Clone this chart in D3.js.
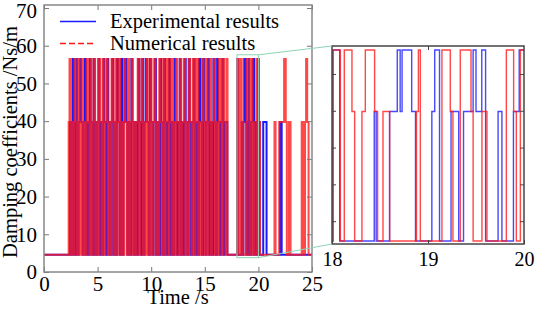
<!DOCTYPE html>
<html>
<head>
<meta charset="utf-8">
<script src="https://cdn.jsdelivr.net/npm/d3@7"></script>
<style>
  body { margin: 0; background: #fff; }
  svg { display: block; }
</style>
</head>
<body>
<svg width="536" height="309"></svg>
<script>
// damping levels (Ns/m)
const L = 4.6, M = 39.8, H = 56.5;

// experimental result: [time (s), damping]
const expSteps = [
  [0, L], [2.42, M], [2.55, L], [2.68, H], [2.79, M], [2.86, L], [3.02, H], [3.1, L], [3.24, M],
  [3.37, H], [3.45, M], [3.58, L], [3.71, M], [3.8, H], [3.92, L], [4.06, M], [4.18, L], [4.27, H],
  [4.35, M], [4.49, L], [4.63, H], [4.72, M], [4.8, L], [4.95, M], [5.07, H], [5.16, L], [5.3, M],
  [5.41, L], [5.55, H], [5.63, M], [5.78, L], [5.9, H], [6.0, M], [6.11, L], [6.24, M], [6.36, H],
  [6.45, L], [6.6, M], [6.72, L], [6.81, H], [6.93, M], [7.05, L], [7.2, H], [7.28, L], [7.41, M],
  [7.55, H], [7.66, M], [7.77, L], [7.92, M], [8.03, L], [8.15, H], [8.24, M], [8.37, L], [8.52, M],
  [8.66, L], [8.8, H], [8.9, M], [9.02, L], [9.17, H], [9.26, L], [9.39, M], [9.5, H], [9.6, M],
  [9.73, L], [9.88, H], [9.97, M], [10.1, L], [10.22, M], [10.35, H], [10.44, L], [10.58, M],
  [10.7, L], [10.84, H], [10.93, M], [11.06, L], [11.2, H], [11.28, M], [11.4, L], [11.55, M],
  [11.67, H], [11.76, L], [11.9, M], [12.03, L], [12.16, H], [12.27, M], [12.38, L], [12.54, M],
  [12.66, H], [12.74, L], [12.88, M], [13.0, L], [13.13, H], [13.22, M], [13.35, L], [13.5, H],
  [13.6, M], [13.72, L], [13.85, M], [13.97, H], [14.06, L], [14.2, M], [14.33, L], [14.46, H],
  [14.57, M], [14.7, L], [14.84, H], [14.92, M], [15.05, L], [15.18, M], [15.3, H], [15.4, L],
  [15.53, M], [15.66, L], [15.8, H], [15.9, M], [16.02, L], [16.15, H], [16.24, M], [16.38, L],
  [16.5, M], [16.63, H], [16.72, L], [16.86, M], [17.1, L],
  [18.01, H], [18.08, L], [18.44, M], [18.46, L], [18.6, M], [18.68, H], [18.71, M], [18.73, H],
  [18.83, M], [18.87, L], [19.04, M], [19.07, H], [19.12, L], [19.24, M], [19.32, L], [19.37, M],
  [19.47, H], [19.5, M], [19.56, H], [19.6, L], [19.73, M], [19.77, L], [19.89, M], [19.95, H],
  [20.02, M], [20.12, L], [20.45, M], [20.76, L], [22.0, M], [22.17, L], [25, L]
];

// numerical result: [time (s), damping]
const numSteps = [
  [0, L], [2.3, M], [2.38, H], [2.5, L], [2.61, M], [2.73, L], [2.85, H], [2.95, M], [3.07, L],
  [3.18, H], [3.3, L], [3.41, M], [3.52, H], [3.63, L], [3.76, M], [3.86, L], [3.98, H], [4.1, M],
  [4.22, L], [4.33, H], [4.44, L], [4.56, M], [4.68, H], [4.77, L], [4.89, M], [5.0, L], [5.12, H],
  [5.24, M], [5.35, L], [5.47, H], [5.58, L], [5.7, M], [5.82, H], [5.94, L], [6.05, M], [6.18, L],
  [6.3, H], [6.41, M], [6.52, L], [6.65, H], [6.76, L], [6.88, M], [6.99, H], [7.1, L], [7.23, M],
  [7.35, L], [7.46, H], [7.58, M], [7.7, L], [7.83, H], [7.95, L], [8.07, M], [8.19, H], [8.28, L],
  [8.4, M], [8.5, L], [8.62, M], [8.74, H], [8.85, L], [8.97, M], [9.09, H], [9.21, L], [9.33, M],
  [9.44, L], [9.56, H], [9.68, M], [9.79, L], [9.92, H], [10.03, L], [10.15, M], [10.28, H],
  [10.39, L], [10.51, M], [10.63, L], [10.75, H], [10.88, M], [10.99, L], [11.12, H], [11.24, L],
  [11.35, M], [11.47, H], [11.6, L], [11.72, M], [11.83, H], [11.95, L], [12.08, M], [12.2, L],
  [12.31, H], [12.43, M], [12.55, L], [12.68, H], [12.8, L], [12.92, M], [13.05, H], [13.17, L],
  [13.28, M], [13.4, L], [13.53, H], [13.65, M], [13.77, L], [13.9, H], [14.02, L], [14.14, M],
  [14.26, H], [14.38, L], [14.5, M], [14.62, L], [14.75, H], [14.87, M], [14.98, L], [15.1, H],
  [15.23, L], [15.35, M], [15.46, H], [15.58, L], [15.7, M], [15.83, H], [15.95, L], [16.07, M],
  [16.2, L], [16.32, H], [16.44, M], [16.55, L], [16.68, H], [16.8, M], [16.92, L], [17.02, H],
  [17.12, L],
  [18.01, H], [18.087, L], [18.128, H], [18.208, M], [18.236, L], [18.312, M], [18.347, H],
  [18.444, M], [18.475, L], [18.531, M], [18.6, L], [18.88, M], [18.9, H], [18.92, L], [19.145, H],
  [19.232, M], [19.26, L], [19.336, H], [19.448, M], [19.47, L], [19.562, M], [19.614, L],
  [19.816, H], [19.892, M], [19.92, L], [19.962, H],
  [20.02, M], [20.15, L], [21.5, M], [21.6, L], [21.95, M], [22.4, H], [22.55, M], [22.65, L],
  [22.85, M], [23.0, L], [24.04, M], [24.2, L], [24.35, M], [24.45, H], [24.55, M], [24.68, L], [25, L]
];

const xTicks = [0, 5, 10, 15, 20, 25];
const yTicks = [0, 10, 20, 30, 40, 50, 60, 70];
const insetXTicks = [18, 19, 20];
const insetYTicks = [10, 20, 30, 40, 50];
const zoomRange = [18, 20];
const legendLabels = ['Experimental results', 'Numerical results'];

const FONT = 'Liberation Serif';
const svg = d3.select('svg');
const BLUE = '#1a1aff', RED = '#ff1a1a';

// main plot
const x = d3.scaleLinear().domain([0, 25]).range([44, 312]);
const y = d3.scaleLinear().domain([0, 70.8]).range([272, 5]);

svg.append('clipPath').attr('id', 'clipMain')
  .append('rect').attr('x', 44).attr('y', 5).attr('width', 268).attr('height', 267);

const lineMain = d3.line().x(d => x(d[0])).y(d => y(d[1])).curve(d3.curveStepAfter);

const gMain = svg.append('g').attr('clip-path', 'url(#clipMain)');
gMain.append('path').datum(expSteps)
  .attr('d', lineMain).attr('fill', 'none').attr('stroke', BLUE).attr('stroke-width', 2);
gMain.append('path').datum(numSteps)
  .attr('d', lineMain).attr('fill', 'none').attr('stroke', RED).attr('stroke-width', 2)
  .attr('stroke-opacity', 0.8);

// axes with inward ticks
const styleAxis = (g, size) => {
  g.attr('font-family', FONT);
  g.select('.domain').remove();
  g.selectAll('.tick line').attr('stroke', '#777');
  g.selectAll('.tick text').attr('font-family', FONT).attr('font-size', size).attr('fill', '#000');
};
svg.append('g').attr('transform', 'translate(0,272)')
  .call(d3.axisBottom(x).tickValues(xTicks).tickSize(-5).tickPadding(4).tickFormat(d3.format('d')))
  .call(styleAxis, 21);
svg.append('g').attr('transform', 'translate(0,5)')
  .call(d3.axisTop(x).tickValues(xTicks).tickSize(-5).tickFormat(''))
  .call(styleAxis, 21);
svg.append('g').attr('transform', 'translate(44,0)')
  .call(d3.axisLeft(y).tickValues(yTicks).tickSize(-5).tickPadding(7).tickFormat(d3.format('d')))
  .call(styleAxis, 21)
  .call(g => g.selectAll('.tick text').filter(d => d === 70).attr('dy', '0.45em'));
svg.append('g').attr('transform', 'translate(312,0)')
  .call(d3.axisRight(y).tickValues(yTicks).tickSize(-5).tickFormat(''))
  .call(styleAxis, 21);

svg.append('rect').attr('x', 44).attr('y', 5).attr('width', 268).attr('height', 267)
  .attr('fill', 'none').attr('stroke', '#888').attr('stroke-width', 1.5);

svg.append('text').attr('x', 178).attr('y', 304).attr('text-anchor', 'middle')
  .attr('font-family', FONT).attr('font-size', 20.5).text('Time /s');
svg.append('text').attr('transform', 'translate(17,142) rotate(-90)').attr('text-anchor', 'middle')
  .attr('font-family', FONT).attr('font-size', 20.5).text('Damping coefficients /Ns/m');

// legend
const legend = svg.append('g');
legend.append('line').attr('x1', 60).attr('x2', 96).attr('y1', 21.5).attr('y2', 21.5)
  .attr('stroke', BLUE).attr('stroke-width', 1.5);
legend.append('line').attr('x1', 60).attr('x2', 96).attr('y1', 43.5).attr('y2', 43.5)
  .attr('stroke', RED).attr('stroke-width', 1.5).attr('stroke-dasharray', '6,3');
legend.selectAll('text').data(legendLabels).enter().append('text')
  .attr('x', 110).attr('y', (d, i) => 28 + i * 22)
  .attr('font-family', FONT).attr('font-size', 20.5).text(d => d);

// inset
const xi = d3.scaleLinear().domain(zoomRange).range([332, 524]);
const yi = d3.scaleLinear().domain([3.8, 57.6]).range([244, 46]);

svg.append('clipPath').attr('id', 'clipInset')
  .append('rect').attr('x', 332).attr('y', 46).attr('width', 192).attr('height', 198);

const lineInset = d3.line().x(d => xi(d[0])).y(d => yi(d[1])).curve(d3.curveStepAfter);
const gIn = svg.append('g').attr('clip-path', 'url(#clipInset)');
gIn.append('path').datum(expSteps)
  .attr('d', lineInset).attr('fill', 'none').attr('stroke', BLUE).attr('stroke-width', 1.4)
  .attr('stroke-opacity', 0.8);
gIn.append('path').datum(numSteps)
  .attr('d', lineInset).attr('fill', 'none').attr('stroke', RED).attr('stroke-width', 1.4)
  .attr('stroke-opacity', 0.8);

const styleInset = g => {
  g.attr('font-family', FONT);
  g.select('.domain').remove();
  g.selectAll('.tick line').attr('stroke', '#444');
  g.selectAll('.tick text').attr('font-family', FONT).attr('font-size', 20).attr('fill', '#000');
};
svg.append('g').attr('transform', 'translate(0,244)')
  .call(d3.axisBottom(xi).tickValues(insetXTicks).tickSize(-4).tickPadding(8).tickFormat(d3.format('d')))
  .call(styleInset);
svg.append('g').attr('transform', 'translate(0,46)')
  .call(d3.axisTop(xi).tickValues([19]).tickSize(-4).tickFormat(''))
  .call(styleInset);
svg.append('g').attr('transform', 'translate(332,0)')
  .call(d3.axisLeft(yi).tickValues(insetYTicks).tickSize(-4).tickFormat(''))
  .call(styleInset);
svg.append('g').attr('transform', 'translate(524,0)')
  .call(d3.axisRight(yi).tickValues(insetYTicks).tickSize(-4).tickFormat(''))
  .call(styleInset);

svg.append('rect').attr('x', 332).attr('y', 46).attr('width', 192).attr('height', 198)
  .attr('fill', 'none').attr('stroke', '#444').attr('stroke-width', 1.5);

// zoom box and connectors
const zc = '#8fd3b4';
const bx0 = x(zoomRange[0]), bx1 = x(zoomRange[1]);
const by0 = y(yi.domain()[1]), by1 = y(yi.domain()[0]);
svg.append('rect').attr('x', bx0).attr('y', by0).attr('width', bx1 - bx0).attr('height', by1 - by0)
  .attr('fill', 'none').attr('stroke', zc).attr('stroke-width', 1);
svg.append('line').attr('x1', bx1).attr('y1', by0).attr('x2', 332).attr('y2', 46)
  .attr('stroke', zc).attr('stroke-width', 1);
svg.append('line').attr('x1', bx1).attr('y1', by1).attr('x2', 332).attr('y2', 244)
  .attr('stroke', zc).attr('stroke-width', 1);
</script>
</body>
</html>
